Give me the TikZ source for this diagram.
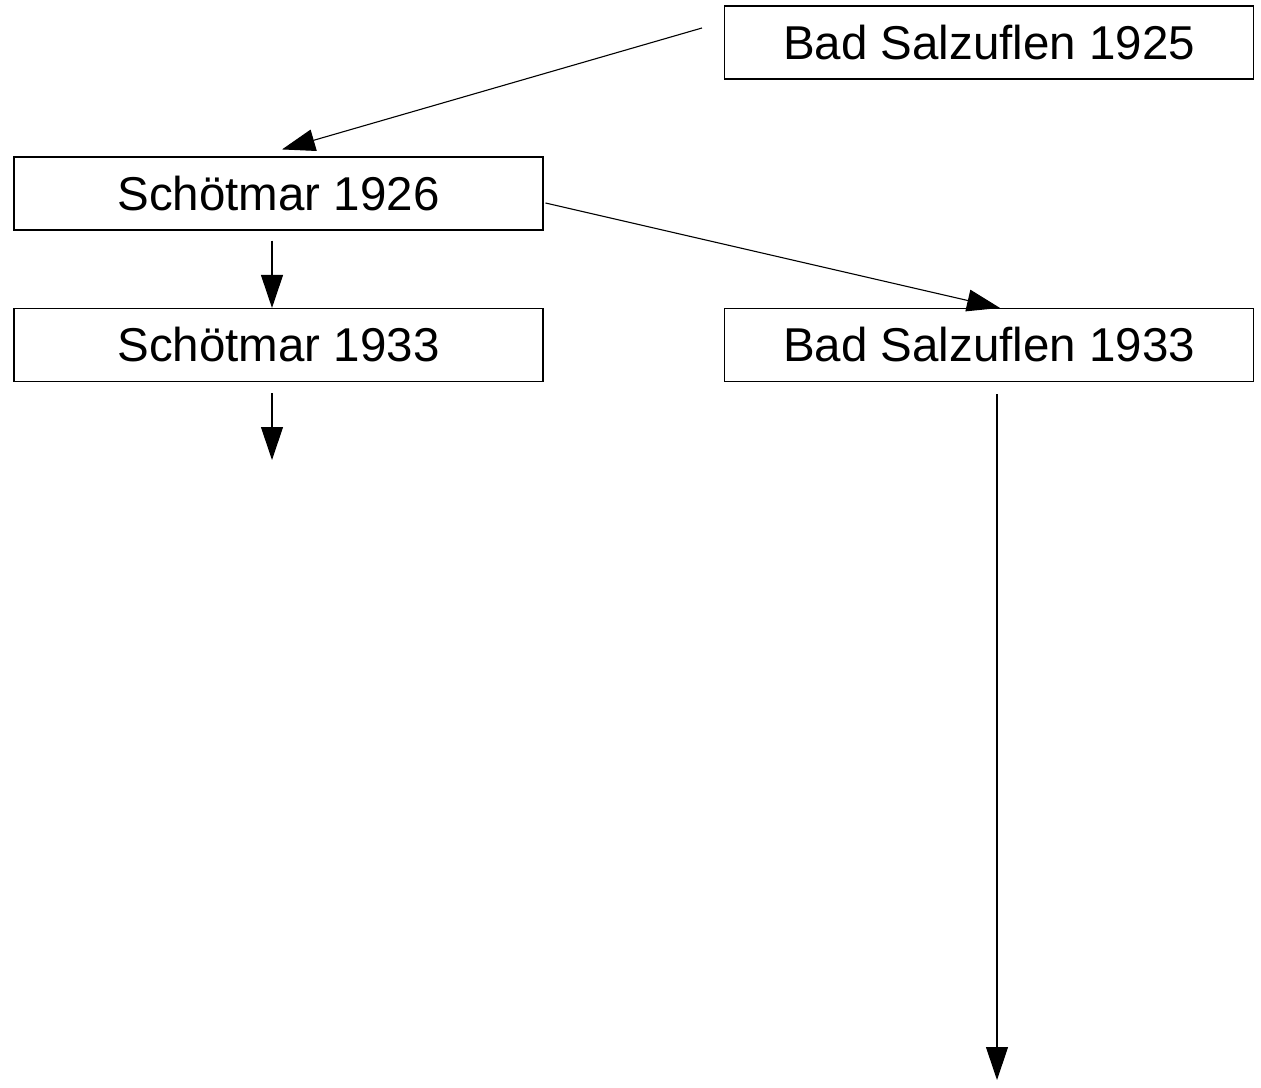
\documentclass[tikz,border=0pt]{standalone}
\usepackage{fontspec}
\setmainfont{Liberation Sans}
\usepackage{tikz}
\usetikzlibrary{arrows.meta,calc}

\begin{document}
\begin{tikzpicture}[x=1pt,y=-1pt]
\tikzstyle{place}=[draw,line width=1.1pt,minimum width=529pt,minimum height=73pt,inner sep=0pt,font=\fontsize{47.5}{57}\selectfont]
\tikzstyle{link}=[line width=1.1pt,-{Triangle[length=33pt,width=22pt]}]
\useasboundingbox (0,0) rectangle (1261,1087);
\node[place] (sal25) at (989,42.5) {Bad Salzuflen 1925};
\node[place] (sch26) at (278.5,193.5) {Schötmar 1926};
\node[place] (sch33) at (278.5,345) {Schötmar 1933};
\node[place] (sal33) at (989,345) {Bad Salzuflen 1933};
% loose ends
\coordinate (sch33out) at (272,460);
\coordinate (sal33out) at (997,1080);
\draw[link] ([xshift=-22pt,yshift=14.5pt]sal25.west) -- ([xshift=3.5pt,yshift=7pt]sch26.north);
\draw[link] ([xshift=-6.5pt,yshift=-10pt]sch26.south) -- ([xshift=-6.5pt]sch33.north);
\draw[link] ([xshift=2pt,yshift=-9.5pt]sch26.east) -- ([xshift=11pt]sal33.north);
\draw[link] ([xshift=-6.5pt,yshift=-11pt]sch33.south) -- (sch33out);
\draw[link] ([xshift=8pt,yshift=-12pt]sal33.south) -- (sal33out);
\end{tikzpicture}
\end{document}
